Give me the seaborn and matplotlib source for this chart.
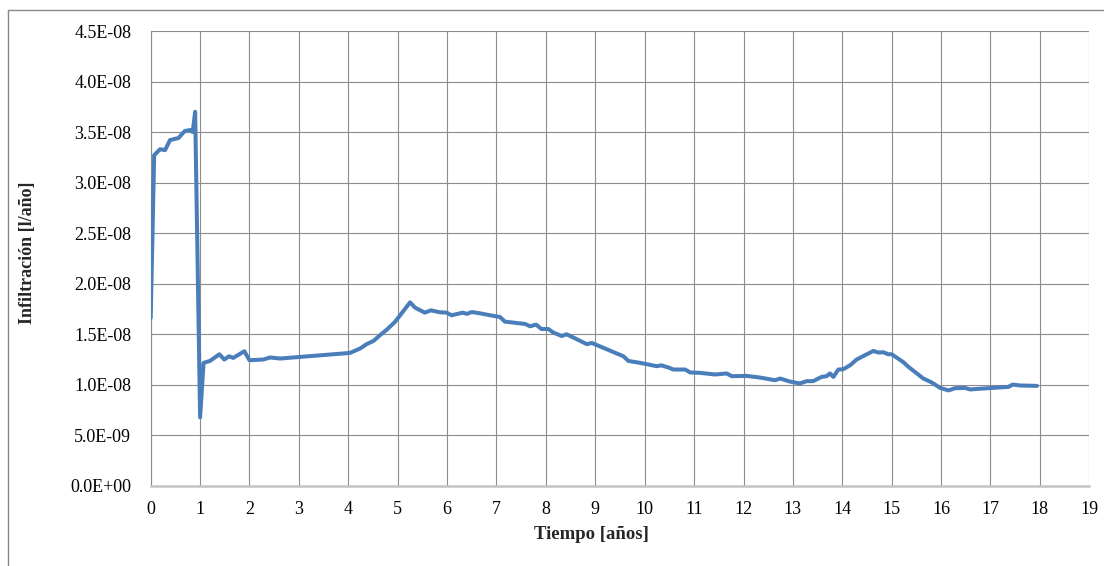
import numpy as np
import pandas as pd
import matplotlib
matplotlib.use("Agg")
import matplotlib.pyplot as plt
import seaborn as sns
from matplotlib.ticker import FuncFormatter, MultipleLocator
from matplotlib.lines import Line2D

# Data (time in years, infiltration in units of 1e-8 l/año)
tiempo = [0.00, 0.07, 0.19, 0.29, 0.39, 0.56, 0.69, 0.80, 0.85, 0.90,
          1.00, 1.07, 1.20, 1.39, 1.49, 1.585, 1.67, 1.895, 2.00, 2.28,
          2.415, 2.62, 4.03, 4.24, 4.37, 4.51, 4.64, 4.78, 4.945, 5.115,
          5.25, 5.35, 5.55, 5.67, 5.85, 5.99, 6.09, 6.32, 6.40, 6.50,
          6.67, 6.87, 7.07, 7.17, 7.58, 7.68, 7.80, 7.91, 8.05, 8.15,
          8.32, 8.42, 8.83, 8.93, 9.57, 9.67, 9.905, 10.04, 10.24, 10.34,
          10.48, 10.58, 10.82, 10.92, 11.12, 11.42, 11.66, 11.76, 12.06, 12.33,
          12.64, 12.74, 12.94, 13.14, 13.28, 13.41, 13.58, 13.68, 13.75, 13.82,
          13.92, 14.02, 14.16, 14.29, 14.46, 14.63, 14.73, 14.83, 14.93, 15.00,
          15.23, 15.34, 15.64, 15.81, 15.98, 16.15, 16.28, 16.48, 16.59, 16.85,
          17.26, 17.36, 17.45, 17.60, 17.94]
infil_e8 = [1.66, 3.27, 3.33, 3.32, 3.42, 3.44, 3.51, 3.52, 3.50, 3.70,
            0.675, 1.215, 1.234, 1.30, 1.248, 1.28, 1.264, 1.33, 1.241, 1.248,
            1.268, 1.258, 1.313, 1.357, 1.40, 1.432, 1.488, 1.544, 1.62, 1.728,
            1.814, 1.762, 1.712, 1.735, 1.716, 1.712, 1.686, 1.712, 1.70, 1.718,
            1.705, 1.686, 1.669, 1.623, 1.60, 1.577, 1.594, 1.55, 1.55, 1.515,
            1.481, 1.498, 1.40, 1.412, 1.28, 1.234, 1.215, 1.202, 1.182, 1.19,
            1.169, 1.149, 1.149, 1.12, 1.116, 1.10, 1.11, 1.083, 1.086, 1.07,
            1.043, 1.06, 1.03, 1.011, 1.034, 1.034, 1.076, 1.083, 1.11, 1.076,
            1.149, 1.152, 1.192, 1.248, 1.291, 1.333, 1.317, 1.32, 1.30, 1.30,
            1.224, 1.175, 1.06, 1.021, 0.967, 0.942, 0.964, 0.967, 0.952, 0.961,
            0.974, 0.977, 1.00, 0.991, 0.987]

x_label = "Tiempo [años]"
y_label = "Infiltración [l/año]"

df = pd.DataFrame({"t": tiempo, "inf": np.array(infil_e8) * 1e-8})

sns.set_style("white")
plt.rcParams["font.family"] = ["Liberation Serif", "DejaVu Serif"]

W, H = 1104, 566
fig = plt.figure(figsize=(W / 100, H / 100), dpi=100)
left, right = 150.7 / W, 1089.3 / W
bottom, top = 1 - 485.6 / H, 1 - 31 / H
ax = fig.add_axes([left, bottom, right - left, top - bottom])

grid_c = "#8c8c8c"
sns.lineplot(data=df, x="t", y="inf", ax=ax, color="#4a7ebb", linewidth=2.9,
             estimator=None, sort=False, zorder=3,
             solid_joinstyle="round", solid_capstyle="round")

ax.set_xlim(0, 19)
ax.set_ylim(0, 4.5e-8)
ax.xaxis.set_major_locator(MultipleLocator(1))
ax.yaxis.set_major_locator(MultipleLocator(5e-9))
ax.yaxis.set_major_formatter(FuncFormatter(lambda v, p: f"{v:.1E}"))
ax.grid(True, color=grid_c, linewidth=0.8, zorder=0)
for s in ["top", "right"]:
    ax.spines[s].set_visible(False)
ax.spines["left"].set_color(grid_c)
ax.spines["left"].set_linewidth(0.8)
ax.spines["bottom"].set_color("#c4c4c4")
ax.spines["bottom"].set_linewidth(1.8)
ax.tick_params(axis="both", which="major", direction="out", length=5,
               width=0.8, color=grid_c, labelsize=13, labelcolor="black")
ax.tick_params(axis="y", pad=9)
ax.tick_params(axis="x", pad=6)
ax.set_xlabel(x_label, fontsize=13.5, fontweight="bold")
ax.set_ylabel(y_label, fontsize=13, fontweight="bold")
ax.xaxis.set_label_coords(0.470, -0.089)
ax.yaxis.set_label_coords(-0.1222, 0.512)

# outer frame (partially cropped in the reference)
fc = "#888888"
fig.add_artist(Line2D([8 / W, 8 / W], [0, 1 - 10 / H], transform=fig.transFigure,
                      color=fc, linewidth=1.0))
fig.add_artist(Line2D([8 / W, 1], [1 - 10 / H, 1 - 10 / H], transform=fig.transFigure,
                      color=fc, linewidth=1.0))

fig.savefig("out.png", dpi=100)
